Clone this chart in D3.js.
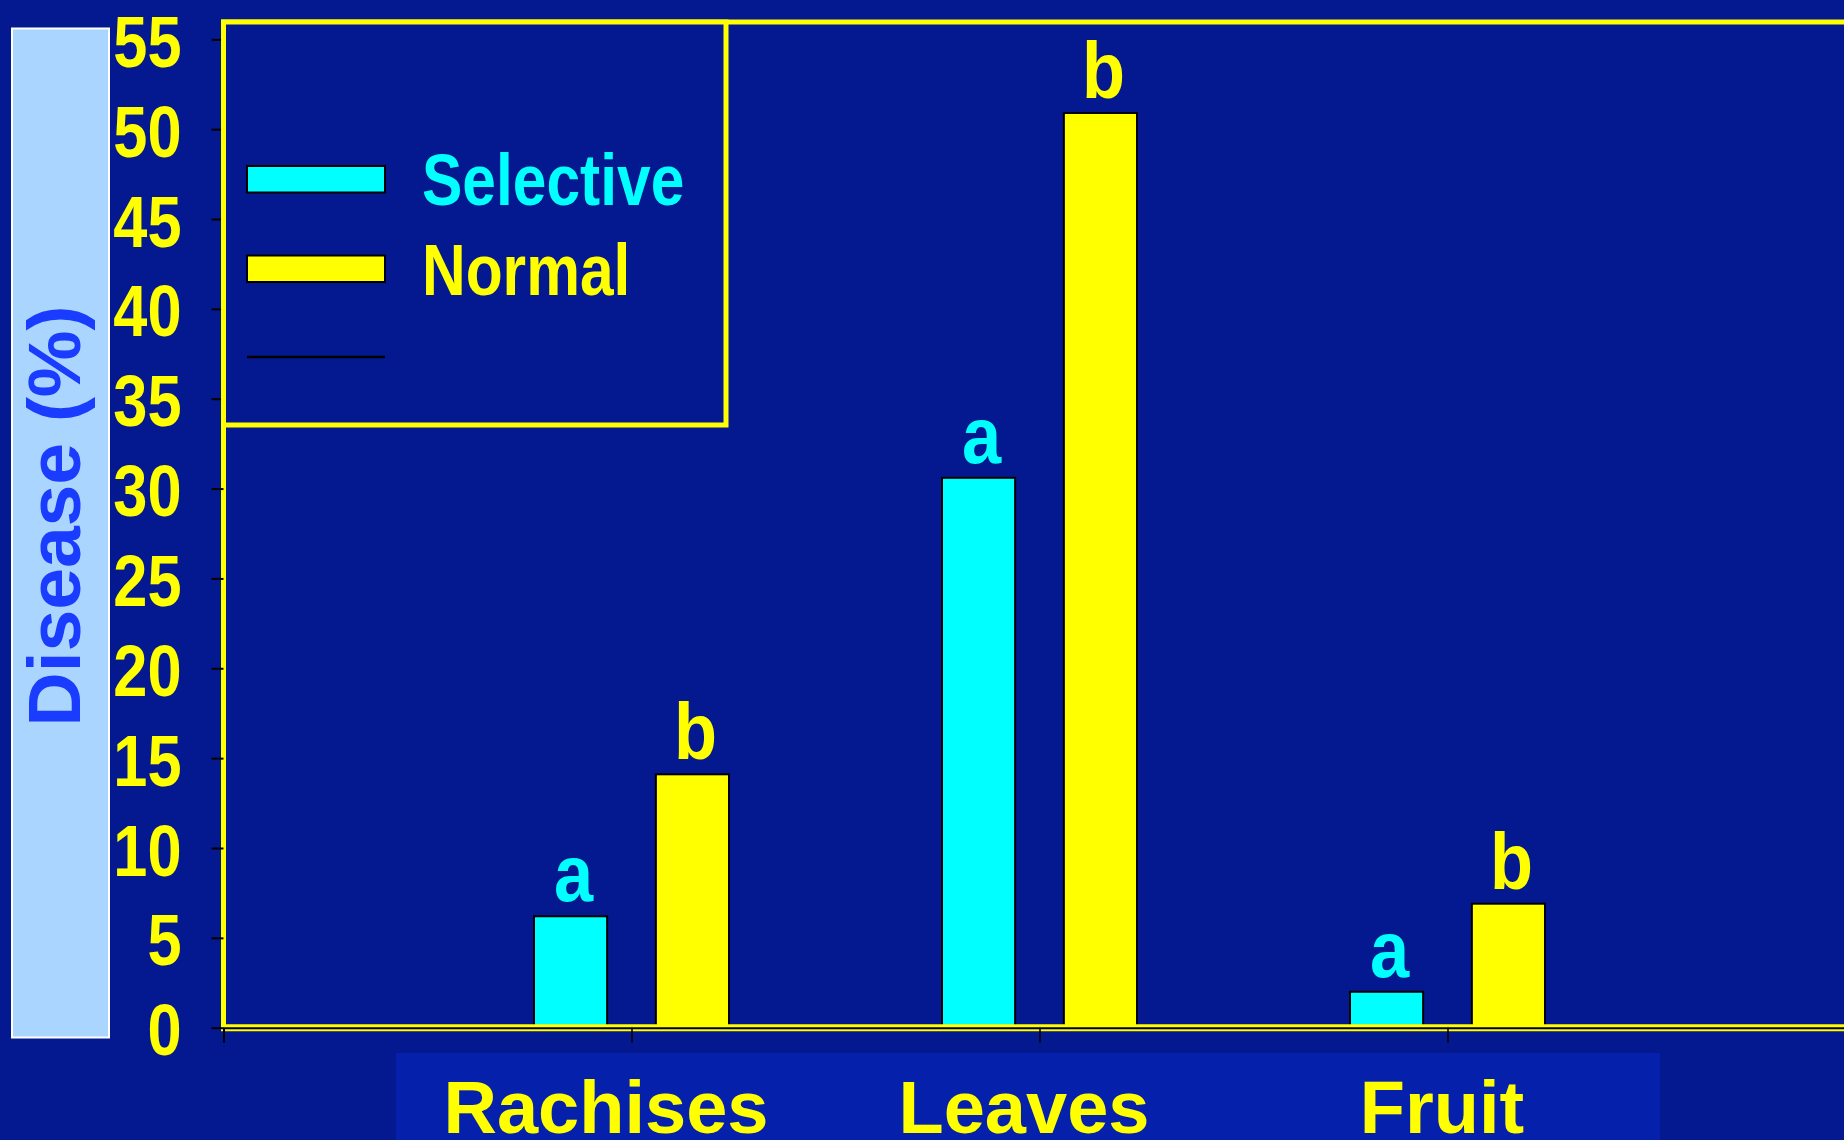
<!DOCTYPE html>
<html>
<head>
<meta charset="utf-8">
<script src="https://cdn.jsdelivr.net/npm/d3@7"></script>
<style>
    html, body { margin: 0; padding: 0; background: #04198f; overflow: hidden; }
    svg { display: block; font-family: "Liberation Sans", Arial, sans-serif; font-weight: bold; }
</style>
</head>
<body>
<div id="chart"></div>
<script>
// data
const categories = ["Rachises", "Leaves", "Fruit"];
const seriesNames = ["Selective", "Normal"];
const selectiveValues = [6.2, 30.6, 2.0];
const normalValues = [14.1, 50.9, 6.9];
const selectiveLetters = ["a", "a", "a"];
const normalLetters = ["b", "b", "b"];
const yTickValues = [0, 5, 10, 15, 20, 25, 30, 35, 40, 45, 50, 55];

function makeChart() {
    const width = 1844,
        height = 1140;

    const bg = '#04198f',
        yellow = '#ffff00',
        cyan = '#00ffff';

    const seriesColor = d3.scaleOrdinal().domain(seriesNames).range([cyan, yellow]);

    let svg = d3.select('#chart').append('svg')
        .attr('width', width)
        .attr('height', height);

    svg.append('rect')
        .attr('width', width)
        .attr('height', height)
        .attr('fill', bg);

    // squeeze text horizontally, the chart object on the slide was stretched
    function condense(sel, k) {
        sel.each(function() {
            let w = this.getComputedTextLength();
            d3.select(this)
                .attr('textLength', w * k)
                .attr('lengthAdjust', 'spacingAndGlyphs');
        });
    }

    let x = d3.scalePoint()
        .domain(categories)
        .range([223.5, 1855.5])
        .padding(1);

    // the category names sit in their own text box below the chart
    let xLabel = d3.scalePoint()
        .domain(categories)
        .range([606, 1442]);

    let xSub = d3.scaleBand()
        .domain(seriesNames)
        .range([-97.5, 97.5])
        .paddingInner(0.4);

    let y = d3.scaleLinear()
        .domain([0, 55])
        .range([1027.7, 39.3]);

    let rows = categories.map((c, i) => ({
        cat: c,
        values: [
            { series: 'Selective', value: selectiveValues[i], letter: selectiveLetters[i] },
            { series: 'Normal', value: normalValues[i], letter: normalLetters[i] }
        ]
    }));

    // y title box
    svg.append('rect')
        .attr('x', 12)
        .attr('y', 28.5)
        .attr('width', 97)
        .attr('height', 1009)
        .attr('fill', '#aad5ff')
        .attr('stroke', '#ffffff')
        .attr('stroke-width', 2);

    svg.append('text')
        .attr('transform', 'translate(80,516) rotate(-90)')
        .attr('text-anchor', 'middle')
        .attr('font-size', 75)
        .attr('fill', '#1a3cff')
        .text('Disease (%)');

    // category label box
    svg.append('rect')
        .attr('x', 396)
        .attr('y', 1053)
        .attr('width', 1264)
        .attr('height', 100)
        .attr('fill', '#0521ab');

    svg.append('g')
        .selectAll('text')
        .data(categories)
        .enter().append('text')
        .attr('x', d => xLabel(d))
        .attr('y', 1133)
        .attr('text-anchor', 'middle')
        .attr('font-size', 74)
        .attr('fill', yellow)
        .text(d => d);

    // bars
    let groups = svg.append('g')
        .selectAll('g')
        .data(rows)
        .enter().append('g')
        .attr('transform', d => 'translate(' + x(d.cat) + ',0)');

    groups.selectAll('rect')
        .data(d => d.values)
        .enter().append('rect')
        .attr('x', d => xSub(d.series))
        .attr('y', d => y(d.value))
        .attr('width', xSub.bandwidth())
        .attr('height', d => y(0) - y(d.value))
        .attr('fill', d => seriesColor(d.series))
        .attr('stroke', '#000')
        .attr('stroke-width', 2);

    groups.selectAll('text')
        .data(d => d.values)
        .enter().append('text')
        .attr('x', d => xSub(d.series) + xSub.bandwidth() / 2 + 3)
        .attr('y', d => y(d.value) - 15)
        .attr('text-anchor', 'middle')
        .attr('font-size', 80)
        .attr('fill', d => seriesColor(d.series))
        .text(d => d.letter)
        .call(condense, 0.88);

    // yellow plot frame
    svg.append('rect')
        .attr('x', 223.5)
        .attr('y', 22)
        .attr('width', 1700)
        .attr('height', y(0) - 22)
        .attr('fill', 'none')
        .attr('stroke', yellow)
        .attr('stroke-width', 5);

    svg.append('line')
        .attr('x1', 221)
        .attr('x2', width)
        .attr('y1', y(0))
        .attr('y2', y(0))
        .attr('stroke', yellow)
        .attr('stroke-width', 7);

    // x axis
    let xAxis = svg.append('g')
        .attr('transform', 'translate(0,' + y(0) + ')')
        .call(d3.axisBottom(x).tickSize(15).tickSizeOuter(15).tickFormat(''));
    xAxis.select('.domain').attr('stroke', '#000').attr('stroke-width', 2);
    xAxis.selectAll('.tick line').attr('stroke', '#000').attr('stroke-width', 1.5);

    // y axis
    let yAxis = svg.append('g')
        .attr('transform', 'translate(223.5,0)')
        .call(d3.axisLeft(y).tickValues(yTickValues).tickSize(12).tickPadding(30));
    yAxis.select('.domain').remove();
    yAxis.selectAll('.tick line').attr('stroke', '#000').attr('stroke-width', 2);
    yAxis.selectAll('.tick text')
        .attr('fill', yellow)
        .attr('font-size', 73)
        .attr('font-family', '"Liberation Sans", Arial, sans-serif')
        .attr('font-weight', 'bold')
        .attr('dy', '0.37em')
        .call(condense, 0.84);

    // legend
    let legend = svg.append('g');

    legend.append('rect')
        .attr('x', 223.5)
        .attr('y', 22)
        .attr('width', 502.5)
        .attr('height', 403)
        .attr('fill', bg)
        .attr('stroke', yellow)
        .attr('stroke-width', 5);

    let items = legend.selectAll('g')
        .data(seriesNames)
        .enter().append('g')
        .attr('transform', (d, i) => 'translate(0,' + (166 + i * 89.5) + ')');

    items.append('rect')
        .attr('x', 247)
        .attr('width', 138)
        .attr('height', 26.5)
        .attr('fill', d => seriesColor(d))
        .attr('stroke', '#000')
        .attr('stroke-width', 2);

    items.append('text')
        .attr('x', 422)
        .attr('y', 39)
        .attr('font-size', 72)
        .attr('fill', d => seriesColor(d))
        .text(d => d)
        .call(condense, 0.84);

    legend.append('line')
        .attr('x1', 247)
        .attr('x2', 385)
        .attr('y1', 357)
        .attr('y2', 357)
        .attr('stroke', '#000')
        .attr('stroke-width', 2.5);
}

makeChart();
</script>
</body>
</html>
